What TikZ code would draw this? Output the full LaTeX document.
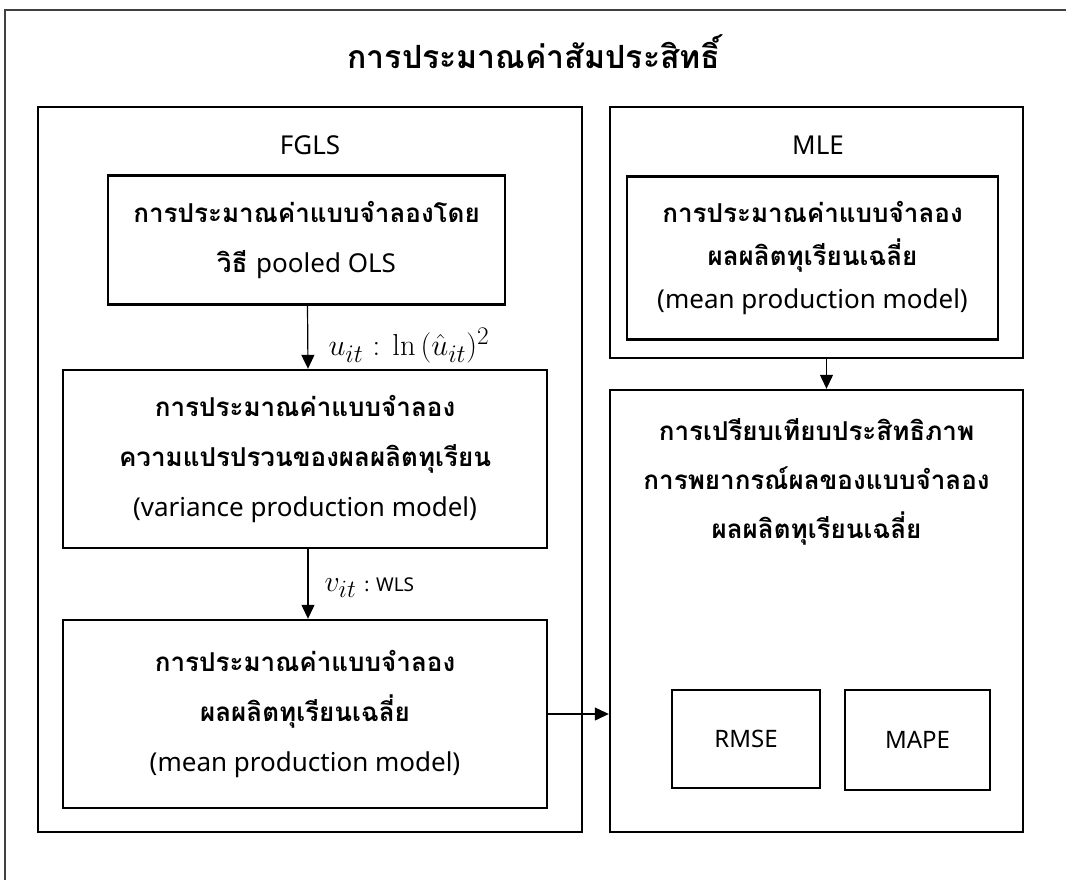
\documentclass[tikz,border=0pt]{standalone}
\usepackage{fontspec}
\newfontfamily\thai[Script=Thai]{Loma}
\newfontfamily\lat{Noto Sans}
\usetikzlibrary{arrows.meta}
\begin{document}
\begin{tikzpicture}[x=1pt,y=-1pt,
  font=\thai\fontsize{26}{50}\selectfont,
  box/.style={draw, line width=2.4pt, inner sep=0pt, align=center},
  txt/.style={inner sep=0pt, align=center},
  arr/.style={line width=1.2pt, -{Triangle[length=14pt,width=13pt]}}]
\useasboundingbox (0,0) rectangle (1066,879);
\begin{scope}
\clip (0,0) rectangle (1066,879);
\draw[line width=2pt, black!75] (5,10) rectangle (1100,920);
\end{scope}
\node[txt, font=\thai\bfseries\fontsize{32}{38}\selectfont] (title) at (534,52) {การประมาณค่าสัมประสิทธิ์};
% FGLS
\node[box, minimum width=544pt, minimum height=725pt] (fgls) at (310,469.5) {};
\node[txt, font=\lat\fontsize{26}{30}\selectfont] (fglst) at (310,145) {FGLS};
\node[box, minimum width=397pt, minimum height=129pt] (b1) at (306.5,240)
  {{\bfseries การประมาณค่าแบบจำลองโดย}\\{\bfseries วิธี} {\lat pooled OLS}};
\node[box, minimum width=484pt, minimum height=178pt] (b2) at (305,459)
  {{\bfseries การประมาณค่าแบบจำลอง}\\{\bfseries ความแปรปรวนของผลผลิตทุเรียน}\\{\lat (variance production model)}};
\node[box, minimum width=484pt, minimum height=188pt] (b3) at (305,714)
  {{\bfseries การประมาณค่าแบบจำลอง}\\{\bfseries ผลผลิตทุเรียนเฉลี่ย}\\{\lat (mean production model)}};
\draw[arr] ([xshift=1pt]b1.south) -- ([xshift=3pt]b2.north)
  node[pos=0.64, anchor=west, xshift=20pt, inner sep=0pt, scale=1.22, font=\fontsize{24.88}{28}\selectfont] (l1) {$u_{it}$ : $\ln{(\hat{u}_{it})^2}$};
\draw[arr] ([xshift=3pt]b2.south) -- ([xshift=3pt]b3.north)
  node[pos=0.55, anchor=west, xshift=16pt, inner sep=0pt] (l2) {\scalebox{1.2}{\fontsize{24.88}{28}\selectfont$v_{it}$}\hspace{8pt}{\lat\fontsize{19}{22}\selectfont : WLS}};
% MLE
\node[box, minimum width=413pt, minimum height=251pt] (mle) at (816.5,232.5) {};
\node[txt, font=\lat\fontsize{26}{30}\selectfont] (mlet) at (818,145) {MLE};
\node[box, minimum width=371pt, minimum height=163pt, font=\thai\fontsize{26}{43}\selectfont] (mlein) at (812.5,258)
  {{\bfseries การประมาณค่าแบบจำลอง}\\{\bfseries ผลผลิตทุเรียนเฉลี่ย}\\{\lat (mean production model)}};
% compare
\node[box, minimum width=413pt, minimum height=442pt] (cmp) at (816.5,611) {};
\node[txt, font=\thai\bfseries\fontsize{26}{49}\selectfont] (cmpt) at (816.5,482)
  {การเปรียบเทียบประสิทธิภาพ\\การพยากรณ์ผลของแบบจำลอง\\ผลผลิตทุเรียนเฉลี่ย};
\node[box, minimum width=148pt, minimum height=98pt, font=\lat\fontsize{24}{28}\selectfont] (rmse) at (746,739) {RMSE};
\node[box, minimum width=145pt, minimum height=100pt, font=\lat\fontsize{24}{28}\selectfont] (mape) at (917.5,740) {MAPE};
\draw[arr] ([xshift=10pt]mle.south) -- ([xshift=10pt]cmp.north);
\draw[arr] (b3.east) -- (b3.east -| cmp.west);
\end{tikzpicture}
\end{document}
